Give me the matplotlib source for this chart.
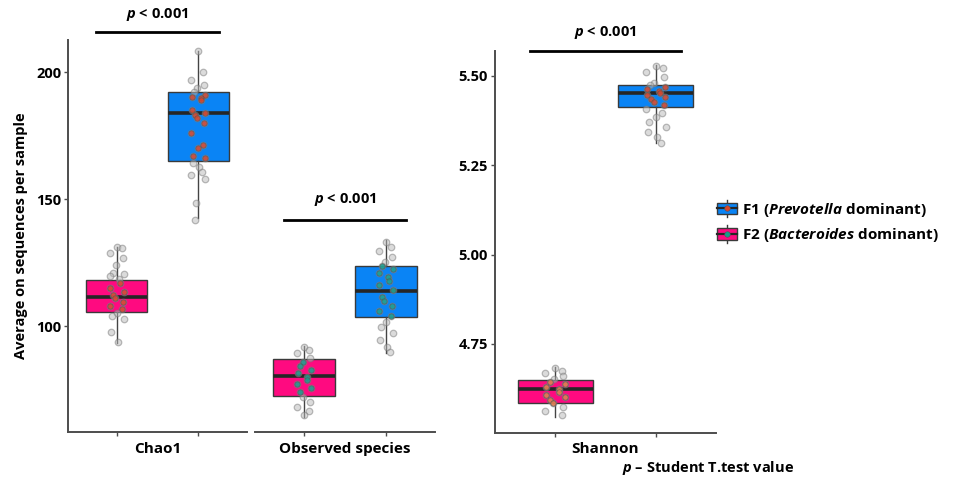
import matplotlib
matplotlib.use("Agg")
import matplotlib.pyplot as plt
import numpy as np
from matplotlib.legend_handler import HandlerBase
from matplotlib.lines import Line2D
from matplotlib.patches import Patch, Rectangle

plt.rcParams["font.family"] = ["Open Sans", "DejaVu Sans"]
plt.rcParams["font.weight"] = "bold"
plt.rcParams["mathtext.fontset"] = "custom"
plt.rcParams["mathtext.it"] = "Open Sans:italic:bold"
plt.rcParams["mathtext.bfit"] = "Open Sans:italic:bold"
plt.rcParams["mathtext.rm"] = "Open Sans:bold"

BLUE = "#0A84F5"
PINK = "#FF0A80"
RED_DOT = "#D6452C"
TEAL_DOT = "#169C8C"

groups = ["F2", "F1"]
legend_labels = ["F1 ($\\mathit{Prevotella}$ dominant)",
                 "F2 ($\\mathit{Bacteroides}$ dominant)"]

# per-sample alpha diversity values
chao1_f2 = [131.0, 130.6, 128.9, 126.6, 124.0, 121.0, 120.5, 119.7, 118.4,
            116.8, 114.8, 113.5, 112.2, 110.9, 109.6, 107.9, 106.6, 105.2,
            103.9, 102.6, 97.8, 93.8]
chao1_f1 = [208.4, 200.0, 197.0, 195.0, 193.6, 192.3, 190.9, 190.3, 189.6,
            189.0, 185.0, 184.0, 183.1, 181.8, 179.8, 175.9, 171.3, 170.0,
            167.0, 166.0, 164.0, 162.7, 160.8, 159.4, 157.7, 148.5, 141.7]
obs_f2 = [91.9, 90.6, 89.2, 87.3, 85.9, 84.3, 82.7, 81.4, 80.0, 78.7, 77.2,
          75.5, 74.1, 72.2, 70.2, 68.2, 66.7, 65.0]
obs_f1 = [133.2, 131.2, 129.7, 127.3, 125.3, 123.6, 122.3, 120.7, 119.2,
          117.8, 116.1, 114.2, 111.6, 110.0, 107.9, 106.0, 103.9, 101.7,
          99.7, 97.1, 94.5, 91.9, 89.9]
shannon_f2 = [4.682, 4.675, 4.668, 4.661, 4.653, 4.645, 4.638, 4.631, 4.623,
              4.616, 4.608, 4.601, 4.594, 4.584, 4.575, 4.564, 4.552]
shannon_f1 = [5.527, 5.523, 5.511, 5.497, 5.480, 5.474, 5.468, 5.462, 5.457,
              5.453, 5.446, 5.441, 5.434, 5.427, 5.418, 5.406, 5.397, 5.384,
              5.372, 5.358, 5.344, 5.330, 5.313]

# box summaries: (whisker low, q1, median, q3, whisker high)
chao1_box = {"F2": (93.3, 105.5, 111.4, 118.1, 131.2),
             "F1": (142.5, 165.1, 183.7, 192.1, 208.4)}
obs_box = {"F2": (64.3, 72.4, 80.3, 86.9, 92.2),
           "F1": (89.4, 103.7, 113.9, 123.6, 133.9)}
shannon_box = {"F2": (4.547, 4.584, 4.623, 4.649, 4.687),
               "F1": (5.311, 5.413, 5.452, 5.473, 5.530)}

p_label = "$\\bfit{p}$ < 0.001"


def draw_panel(ax, box, pts, dot_colors, title, jitter=0.09):
    colors = {"F2": PINK, "F1": BLUE}
    for i, g in enumerate(groups):
        lo, q1, med, q3, hi = box[g]
        stats = [dict(whislo=lo, q1=q1, med=med, q3=q3, whishi=hi, fliers=[])]
        ax.bxp(stats, positions=[i + 1], widths=0.75, showcaps=False,
               patch_artist=True,
               boxprops=dict(facecolor=colors[g], edgecolor="#3a3a3a", lw=1),
               medianprops=dict(color="#262626", lw=2.6),
               whiskerprops=dict(color="#444444", lw=1))
        vals = np.asarray(pts[g])
        jit = jitter * np.sin(np.arange(len(vals)) * 2.4)
        xs = i + 1 + jit
        ax.scatter(xs, vals, s=22, facecolor="#b8b8b8", edgecolor="#7a7a7a",
                   alpha=0.5, lw=0.9, zorder=4)
        inside = (vals >= q1) & (vals <= q3)
        ax.scatter(xs[inside], vals[inside], s=15, facecolor=dot_colors[g],
                   edgecolor="#555555", alpha=0.85, lw=0.5, zorder=5)
    ax.set_xlim(0.4, 2.6)
    ax.set_xticks([1, 2])
    ax.set_xticklabels(["", ""])
    ax.text(1.5, -0.025, title, transform=ax.get_xaxis_transform(),
            ha="center", va="top", fontsize=11, fontweight="bold")
    for s in ["top", "right"]:
        ax.spines[s].set_visible(False)
    for s in ["bottom", "left"]:
        ax.spines[s].set_color("#4d4d4d")
        ax.spines[s].set_linewidth(1.4)
    ax.tick_params(axis="both", color="#4d4d4d", length=3, width=1,
                   labelsize=10.5, pad=2)


def bracket(ax, y_line, y_text):
    ax.plot([0.75, 2.25], [y_line, y_line], color="black", lw=2,
            clip_on=False)
    ax.text(1.5, y_text, p_label, ha="center", va="center", fontsize=10.5,
            fontweight="bold", clip_on=False)


fig = plt.figure(figsize=(9.54, 4.83), dpi=100)
W, H = 954, 483


def px_axes(x0, x1, y_top, y_bot):
    return fig.add_axes([x0 / W, (H - y_bot) / H, (x1 - x0) / W,
                         (y_bot - y_top) / H])


ax1 = px_axes(68, 247, 40, 432)
ax2 = px_axes(255, 435, 40, 432)
ax3 = px_axes(495, 716, 50.7, 432.7)

draw_panel(ax1, chao1_box, {"F2": chao1_f2, "F1": chao1_f1},
           {"F2": RED_DOT, "F1": RED_DOT}, "Chao1")
draw_panel(ax2, obs_box, {"F2": obs_f2, "F1": obs_f1},
           {"F2": TEAL_DOT, "F1": TEAL_DOT}, "Observed species")
draw_panel(ax3, shannon_box, {"F2": shannon_f2, "F1": shannon_f1},
           {"F2": "#E07A4A", "F1": RED_DOT}, "Shannon", jitter=0.1)

for ax in (ax1, ax2):
    ax.set_ylim(58.3, 212.6)
ax1.set_yticks([100, 150, 200])
ax2.spines["left"].set_visible(False)
ax2.tick_params(axis="y", left=False, labelleft=False)
ax1.set_ylabel("Average on sequences per sample", fontsize=10.5,
               fontweight="bold", labelpad=6)

ax3.set_ylim(4.502, 5.570)
ax3.set_yticks([4.75, 5.00, 5.25, 5.50])
ax3.set_yticklabels(["4.75", "5.00", "5.25", "5.50"])

bracket(ax1, 215.9, 222.8)
bracket(ax2, 141.6, 149.8)
bracket(ax3, 5.570, 5.620)


class BoxHandler(HandlerBase):
    def __init__(self, face, dot):
        super().__init__()
        self.face = face
        self.dot = dot

    def create_artists(self, legend, orig_handle, xdescent, ydescent,
                       width, height, fontsize, trans):
        x0, y0 = -xdescent, -ydescent
        cx, cy = x0 + width / 2, y0 + height / 2
        vline = Line2D([cx, cx], [y0 - 0.25 * height, y0 + 1.25 * height],
                       color="#3a3a3a", lw=1, transform=trans)
        rect = Rectangle((x0, y0), width, height, facecolor=self.face,
                         edgecolor="#3a3a3a", lw=1, transform=trans)
        hline = Line2D([x0, x0 + width], [cy, cy], color="#262626", lw=1.6,
                       transform=trans)
        dot = Line2D([cx], [cy], marker="o", ms=4, color=self.dot,
                     mec="#555555", mew=0.4, transform=trans)
        return [vline, rect, hline, dot]


h1 = Patch(facecolor=BLUE)
h2 = Patch(facecolor=PINK)
fig.legend([h1, h2], legend_labels, loc="upper left",
           bbox_to_anchor=(703 / W, (H - 187) / H), frameon=False,
           fontsize=11, handlelength=1.35, handleheight=0.8,
           handletextpad=0.3, labelspacing=0.5,
           handler_map={h1: BoxHandler(BLUE, RED_DOT),
                        h2: BoxHandler(PINK, TEAL_DOT)})

fig.text(622 / W, (H - 468) / H, "$\\bfit{p}$ \u2013 Student T.test value",
         ha="left", va="center", fontsize=10.5, fontweight="bold")

fig.savefig("out.png", dpi=100)
